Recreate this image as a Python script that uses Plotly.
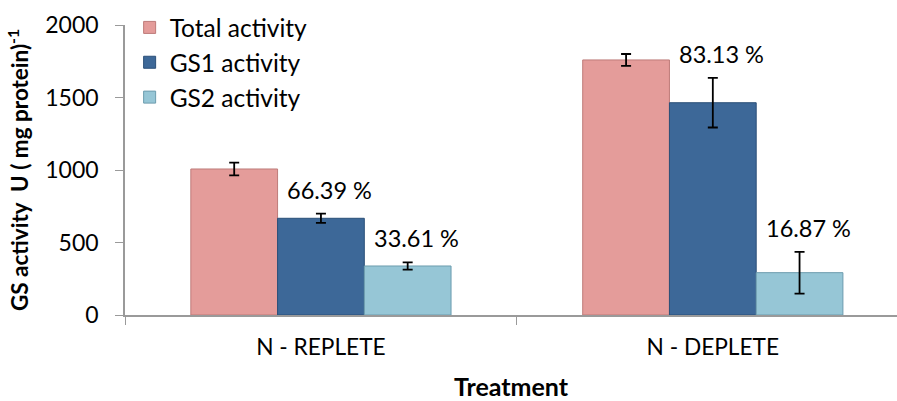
import plotly.graph_objects as go

categories = ["N - REPLETE", "N - DEPLETE"]
series_names = ["Total activity", "GS1 activity", "GS2 activity"]
total_vals = [1007, 1759]
total_err = [44, 41]
gs1_vals = [667, 1464]
gs1_err = [32, 171]
gs2_vals = [338, 292]
gs2_err = [25, 144]
gs1_pct = ["66.39 %", "83.13 %"]
gs2_pct = ["33.61 %", "16.87 %"]

colors = ["#E49C9A", "#3D6898", "#96C6D6"]
outlines = ["#BE7B79", "#2B4F78", "#6C9CAE"]

FONT = "Lato"
bargap = 0.336

fig = go.Figure()
vals = [total_vals, gs1_vals, gs2_vals]
errs = [total_err, gs1_err, gs2_err]
for j, (name, v, e) in enumerate(zip(series_names, vals, errs)):
    fig.add_trace(go.Bar(
        x=categories, y=v, name=name,
        marker=dict(color=colors[j], line=dict(color=outlines[j], width=1)),
        error_y=dict(type="data", array=e, visible=True, color="black",
                     thickness=1.8, width=5),
        legendgroup=name,
    ))

barw = (1 - bargap) / 3
for j, (pcts, v, e) in enumerate([(gs1_pct, gs1_vals, gs1_err), (gs2_pct, gs2_vals, gs2_err)]):
    off = j * barw  # GS1 at group centre, GS2 one bar to the right
    for i in range(len(categories)):
        fig.add_annotation(
            x=i + off, y=v[i] + e[i], xref="x", yref="y",
            text=pcts[i], showarrow=False, yanchor="bottom",
            xshift=9, yshift=8,
            font=dict(family=FONT, size=23.5, color="#000000"),
        )

fig.update_layout(
    width=897, height=401,
    margin=dict(l=125, r=0, t=25, b=86, autoexpand=False),
    paper_bgcolor="white", plot_bgcolor="white",
    barmode="group", bargap=bargap, bargroupgap=0,
    font=dict(family=FONT, size=23, color="#000000"),
    legend=dict(x=0.006, y=1.069, xanchor="left", yanchor="top",
                bgcolor="rgba(0,0,0,0)", font=dict(family=FONT, size=24.5),
                tracegroupgap=0, itemwidth=30),
    showlegend=True,
)
fig.update_xaxes(
    range=[-0.5, 1.47], showline=True, linecolor="#9A9A9A", linewidth=1.5,
    ticks="outside", tickson="boundaries", ticklen=8, tickcolor="#9A9A9A",
    tickfont=dict(family=FONT, size=22.7), showgrid=False, ticklabelstandoff=11,
    automargin=False,
    title=dict(text="<b>Treatment</b>", font=dict(family=FONT, size=25), standoff=26),
)
fig.update_yaxes(
    range=[0, 2000], tickvals=[0, 500, 1000, 1500, 2000], showline=True,
    linecolor="#9A9A9A", linewidth=1.5, ticks="outside", ticklen=8,
    tickcolor="#9A9A9A", tickfont=dict(family=FONT, size=23), showgrid=False,
    zeroline=False, ticklabelstandoff=12, automargin=False,
    title=dict(text="<b>GS activity  U ( mg protein)<sup>-1</sup></b>",
               font=dict(family=FONT, size=22.5), standoff=10),
)

fig.write_html("out.html", config={"displayModeBar": False},
               post_script="document.body.style.margin='0';document.body.style.overflow='hidden';")
